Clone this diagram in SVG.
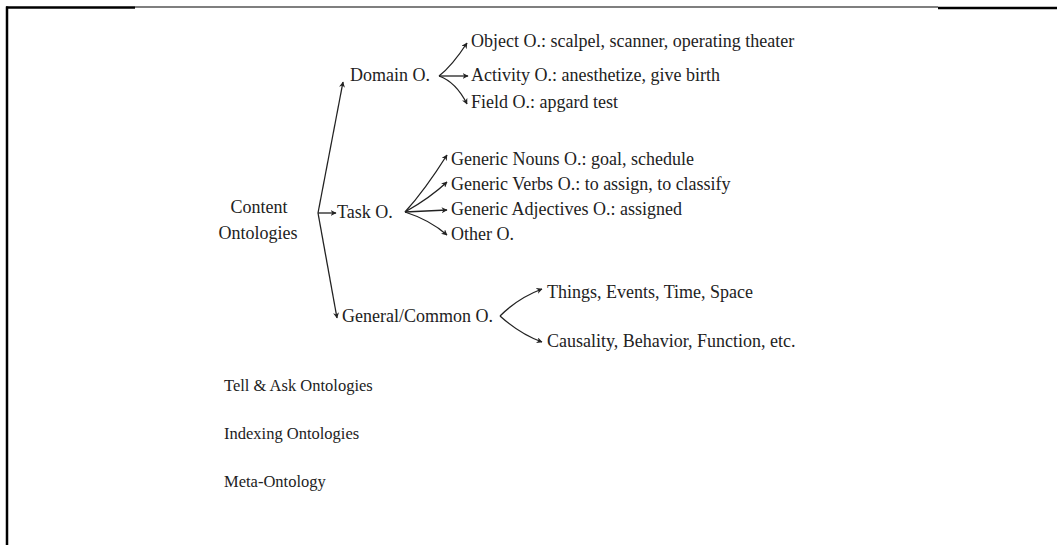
<svg xmlns="http://www.w3.org/2000/svg" width="1057" height="545" viewBox="0 0 1057 545">
  <style>
    .t { font-family: "Liberation Serif", "Times New Roman", serif; font-size: 18px; fill: #222; }
    .s { font-size: 16.5px; }
    .frame { stroke: #000; fill: none; }
    .c { stroke: #222; stroke-width: 1.3; fill: none; marker-end: url(#ah); }
  </style>
  <defs>
    <marker id="ah" viewBox="0 0 10 10" refX="9" refY="5" markerWidth="6" markerHeight="6" markerUnits="userSpaceOnUse" orient="auto">
      <path d="M0,0 L10,5 L0,10 L3,5 Z" fill="#222"/>
    </marker>
  </defs>
  <rect width="1057" height="545" fill="#fff"/>

  <!-- page frame -->
  <g id="frame">
    <line class="frame" x1="6" y1="7.5" x2="135" y2="7.5" stroke-width="2.5"/>
    <line class="frame" x1="135" y1="7" x2="938" y2="7" stroke-width="1.2"/>
    <line class="frame" x1="938" y1="8" x2="1057" y2="8" stroke-width="2.5"/>
    <line class="frame" x1="7" y1="6.5" x2="7" y2="545" stroke-width="2.5"/>
  </g>

  <!-- connectors -->
  <g id="connectors">
    <path class="c" d="M318,213 L343,82"/>
    <path class="c" d="M318,213 L336,213"/>
    <path class="c" d="M318,213 L337,318"/>

    <path class="c" d="M439,76 Q452,66 467,43"/>
    <path class="c" d="M439,76 L468,76"/>
    <path class="c" d="M439,76 Q456,82 467,104"/>

    <path class="c" d="M405,212 Q425,190 447,155"/>
    <path class="c" d="M405,212 Q430,198 447,182"/>
    <path class="c" d="M405,212 L447,210"/>
    <path class="c" d="M405,212 Q430,220 447,235"/>

    <path class="c" d="M500,316 Q518,298 542,289"/>
    <path class="c" d="M500,316 Q520,334 542,342"/>
  </g>

  <g id="content"><text class="t" x="259" y="213" text-anchor="middle">Content</text><text class="t" x="258" y="239" text-anchor="middle">Ontologies</text></g>
  <g id="domain"><text class="t" x="350" y="81">Domain O.</text></g>
  <g id="object"><text class="t" x="471" y="47">Object O.: scalpel, scanner, operating theater</text></g>
  <g id="activity"><text class="t" x="471" y="81">Activity O.: anesthetize, give birth</text></g>
  <g id="field"><text class="t" x="471" y="108">Field O.: apgard test</text></g>
  <g id="task"><text class="t" x="337" y="218">Task O.</text></g>
  <g id="nouns"><text class="t" x="451" y="165">Generic Nouns O.: goal, schedule</text></g>
  <g id="verbs"><text class="t" x="451" y="190">Generic Verbs O.: to assign, to classify</text></g>
  <g id="adjectives"><text class="t" x="451" y="215">Generic Adjectives O.: assigned</text></g>
  <g id="other"><text class="t" x="451" y="240">Other O.</text></g>
  <g id="general"><text class="t" x="342" y="322">General/Common O.</text></g>
  <g id="things"><text class="t" x="547" y="298">Things, Events, Time, Space</text></g>
  <g id="causality"><text class="t" x="547" y="347">Causality, Behavior, Function, etc.</text></g>
  <g id="tellask"><text class="t s" x="224" y="391">Tell &amp; Ask Ontologies</text></g>
  <g id="indexing"><text class="t s" x="224" y="439">Indexing Ontologies</text></g>
  <g id="meta"><text class="t s" x="224" y="487">Meta-Ontology</text></g>
</svg>
